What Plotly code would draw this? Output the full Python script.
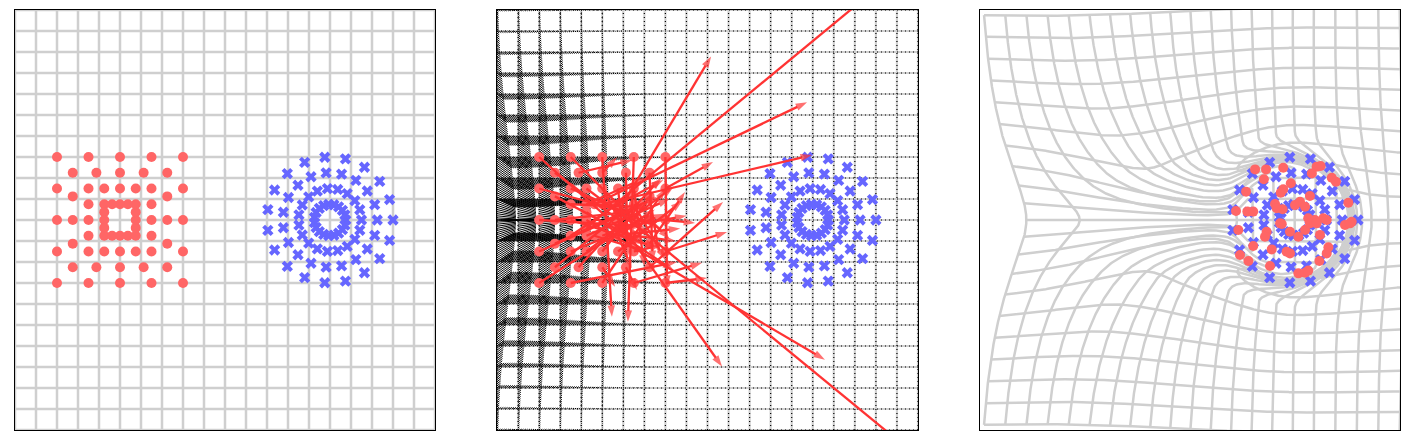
import numpy as np
import plotly.graph_objects as go

# ---------------- data ----------------
GRID_TICKS = list(range(-10, 11))

RED_CENTER = (-5.0, 0.0)
RED_RING_HALF = [3.0, 2.25, 1.5, 0.75]
UNIT_SQUARE = [(-1, -1), (-0.5, -1), (0, -1), (0.5, -1), (1, -1), (1, -0.5), (1, 0), (1, 0.5),
               (1, 1), (0.5, 1), (0, 1), (-0.5, 1), (-1, 1), (-1, 0.5), (-1, 0), (-1, -0.5)]

BLUE_CENTER = (5.0, 0.0)
BLUE_RADII = [3.0, 2.25, 1.5, 0.75]
BLUE_PER_RING = 19

# panel 2: arrow tips for each red point (same order as the red points)
ARROW_END_X = [-2.5, -1.45, -2.0, -0.26, -0.02, 0.93, -0.59, 0.26, -1.92, -3.78, -4.54, -3.0, -3.5, -3.2, -3.0, -2.8,
               -3.5, -2.2, -4.39, -3.35, 0.74, -1.07, -1.8, -2.3, -2.6, -3.8, -4.30, -3.59, -3.4, -2.9, -3.6, -2.4,
               -2.0, -1.6, -3.0, -1.2, -2.2, -1.5, -2.6, -2.0, -3.0, -4.0, -3.3, -2.7, -2.2, -2.8, -2.4, -3.3,
               -1.8, -2.9, -2.5, -1.3, -3.6, -1.0, 0.69, 0.17, -2.1, 9.38, 4.96, 4.73, -3.0, -1.6, 5.58, 8.19]
ARROW_END_Y = [0.5, -2.0, 1.5, -2.04, -2.76, -0.57, -0.14, 2.76, -3.18, -4.85, -4.61, -0.5, -1.0, 0.2, -0.3, 0.8,
               0.8, 2.0, -3.18, -3.33, 0.86, 1.33, -0.9, -1.6, -2.0, -1.8, 2.99, 2.85, -0.6, -1.2, 0.4, 1.1,
               0.3, 1.6, 1.0, 0.9, -1.2, -1.0, 1.3, -1.9, -2.2, -0.8, -1.6, -0.8, -0.4, 0.6, -1.3, 1.4,
               1.0, -1.5, 0.2, -0.4, -2.3, 0.2, -6.98, 7.79, 1.9, -10.78, 3.09, 5.61, 2.0, -2.4, -6.65, 11.16]

# panel 3: where the red points ended up
RED_OUT_X = [3.10, 3.62, 4.44, 3.52, 6.03, 6.22, 5.80, 6.75, 6.95, 4.80, 4.44, 4.32, 2.67, 5.71, 4.05, 4.13,
             4.41, 5.00, 5.24, 5.48, 7.54, 2.19, 2.73, 3.01, 5.63, 5.95, 6.35, 6.51, 4.29, 5.48, 5.71, 7.38,
             7.70, 2.30, 3.65, 4.76, 5.16, 6.19, 3.57, 3.01, 3.89, 4.60, 6.59, 6.51, 2.38, 2.78, 6.16, 3.81,
             5.16, 5.48, 5.63, 4.76, 4.37, 7.62, 6.03]
RED_OUT_Y = [2.41, 2.41, 2.49, 1.94, 2.54, 2.57, 2.22, 2.01, 1.82, 1.75, 1.46, 1.30, 1.35, 1.14, 0.76, 0.56,
             0.51, 0.71, 0.87, 0.63, 0.82, 0.43, 0.40, 0.40, 0.08, 0.00, 0.08, 0.00, -0.16, -0.48, -0.16, -0.24,
             -0.08, -0.48, -0.56, -0.56, -0.80, -0.71, -0.80, -1.24, -1.40, -1.51, -1.30, -1.59, -1.67, -1.95, -1.95, -2.19,
             -2.54, -2.51, -2.41, -1.59, -0.19, -0.16, -0.16]

# ---------------- styling ----------------
RED = '#ff6666'
ARROW_RED = '#ff3333'
BLUE = '#6666ff'
GRID_GRAY = '#cfcfcf'

# ---------------- derived geometry ----------------
red_x, red_y = [], []
for h in RED_RING_HALF:
    for ux, uy in UNIT_SQUARE:
        red_x.append(RED_CENTER[0] + h * ux)
        red_y.append(RED_CENTER[1] + h * uy)
red_x = np.array(red_x)
red_y = np.array(red_y)

ang = 2 * np.pi * np.arange(BLUE_PER_RING) / BLUE_PER_RING
blue_x = np.concatenate([BLUE_CENTER[0] + r * np.cos(ang) for r in BLUE_RADII])
blue_y = np.concatenate([BLUE_CENTER[1] + r * np.sin(ang) for r in BLUE_RADII])

lo, hi = GRID_TICKS[0], GRID_TICKS[-1]
samp = np.linspace(lo, hi, 801)
grid_lines = []
for c in GRID_TICKS:
    grid_lines.append((np.full_like(samp, c, dtype=float), samp.copy()))
    grid_lines.append((samp.copy(), np.full_like(samp, c, dtype=float)))


def join(lines):
    xs, ys = [], []
    for lx, ly in lines:
        xs.extend(list(lx)); xs.append(None)
        ys.extend(list(ly)); ys.append(None)
    return xs, ys


# panel 3 grid: the plane carried along by a soft disc moving from the red to the blue cluster
CYL_START, CYL_TRAVEL, CYL_R, CYL_SOFT, FRONT = -5.0, 10.0, 3.3, 0.9, 0.55
ALPHA, BETA, DRAG_L = 0.45, 0.55, 3.2


def smooth(s):
    s = np.clip(s, 0, 1)
    return s * s * (3 - 2 * s)


def vel(x, y, t):
    dx = x - (CYL_START + CYL_TRAVEL * t)
    dy = y
    r2 = dx * dx + dy * dy + 1e-9
    r = np.sqrt(r2)
    U, R2 = CYL_TRAVEL, CYL_R ** 2
    front = smooth((dx + 1.0) / 3.0)
    mdip = 1 - (1 - FRONT) * front
    wrear = 1 - front
    uo = mdip * ALPHA * U * R2 * (dx * dx - dy * dy) / r2 ** 2 \
        + wrear * BETA * U * np.exp(-np.clip(r - CYL_R, 0, None) / DRAG_L)
    vo = mdip * ALPHA * U * R2 * (2 * dx * dy) / r2 ** 2
    s = smooth((r - (CYL_R - CYL_SOFT)) / (2 * CYL_SOFT))
    return (1 - s) * U + s * uo, s * vo


def warp(x, y, steps=400):
    x = x.astype(float).copy(); y = y.astype(float).copy()
    dt = 1.0 / steps
    for i in range(steps):
        t = i * dt
        k1 = vel(x, y, t)
        k2 = vel(x + 0.5 * dt * k1[0], y + 0.5 * dt * k1[1], t + 0.5 * dt)
        k3 = vel(x + 0.5 * dt * k2[0], y + 0.5 * dt * k2[1], t + 0.5 * dt)
        k4 = vel(x + dt * k3[0], y + dt * k3[1], t + dt)
        x += dt / 6 * (k1[0] + 2 * k2[0] + 2 * k3[0] + k4[0])
        y += dt / 6 * (k1[1] + 2 * k2[1] + 2 * k3[1] + k4[1])
    return x, y


allx = np.concatenate([l[0] for l in grid_lines])
ally = np.concatenate([l[1] for l in grid_lines])
wxa, wya = warp(allx, ally)
warped = []
n = len(samp)
for i in range(len(grid_lines)):
    warped.append((wxa[i * n:(i + 1) * n], wya[i * n:(i + 1) * n]))

# quiver field of panel 2 (strong on the left)
qs = np.arange(lo, hi + 1e-9, 0.1)
qx, qy = [], []
for c in GRID_TICKS:
    for px_, py_ in [(np.full_like(qs, c), qs), (qs, np.full_like(qs, c))]:
        e = np.exp(-((px_ - lo) ** 2) / (2 * 3.4 ** 2)) * np.exp(-(py_ ** 2) / (2 * 4.3 ** 2))
        qu = 0.9 * e
        qv = -0.7 * e * np.tanh(py_ / 1.5)
        for a, b_, du, dv in zip(px_, py_, qu, qv):
            if abs(du) + abs(dv) > 0.03:
                qx += [a, a + du, None]
                qy += [b_, b_ + dv, None]

fig = go.Figure()

gx, gy = join(grid_lines)
wx, wy = join(warped)

# ---- panel 1 ----
fig.add_trace(go.Scatter(x=gx, y=gy, mode='lines', line=dict(color=GRID_GRAY, width=2.5),
                         hoverinfo='skip', xaxis='x', yaxis='y'))
fig.add_trace(go.Scatter(x=red_x, y=red_y, mode='markers',
                         marker=dict(color=RED, size=10, symbol='circle'), xaxis='x', yaxis='y'))
fig.add_trace(go.Scatter(x=blue_x, y=blue_y, mode='markers',
                         marker=dict(color=BLUE, size=10, symbol='x'), xaxis='x', yaxis='y'))

# ---- panel 2 ----
fig.add_trace(go.Scatter(x=gx, y=gy, mode='lines', line=dict(color=GRID_GRAY, width=2.2),
                         hoverinfo='skip', xaxis='x2', yaxis='y2'))
fig.add_trace(go.Scatter(x=gx, y=gy, mode='lines', line=dict(color='black', width=1.2, dash='1px,3px'),
                         hoverinfo='skip', xaxis='x2', yaxis='y2'))
fig.add_trace(go.Scatter(x=qx, y=qy, mode='lines', line=dict(color='black', width=1.0),
                         hoverinfo='skip', xaxis='x2', yaxis='y2'))
fig.add_trace(go.Scatter(x=blue_x, y=blue_y, mode='markers',
                         marker=dict(color=BLUE, size=10, symbol='x'), xaxis='x2', yaxis='y2'))
fig.add_trace(go.Scatter(x=red_x, y=red_y, mode='markers',
                         marker=dict(color=RED, size=10, symbol='circle'), xaxis='x2', yaxis='y2'))
ax, ay, asz = [], [], []
for x0, y0, x1, y1 in zip(red_x, red_y, ARROW_END_X, ARROW_END_Y):
    ax += [x0, x1, None]
    ay += [y0, y1, None]
    asz += [0, 12, 0]
fig.add_trace(go.Scatter(x=ax, y=ay, mode='lines+markers', line=dict(color=ARROW_RED, width=2.3),
                         marker=dict(symbol='arrow', angleref='previous', size=asz, color=ARROW_RED,
                                     line=dict(width=0)),
                         hoverinfo='skip', xaxis='x2', yaxis='y2'))

# ---- panel 3 ----
fig.add_trace(go.Scatter(x=wx, y=wy, mode='lines', line=dict(color=GRID_GRAY, width=2.5),
                         hoverinfo='skip', xaxis='x3', yaxis='y3'))
fig.add_trace(go.Scatter(x=blue_x, y=blue_y, mode='markers',
                         marker=dict(color=BLUE, size=10, symbol='x'), xaxis='x3', yaxis='y3'))
fig.add_trace(go.Scatter(x=RED_OUT_X, y=RED_OUT_Y, mode='markers',
                         marker=dict(color=RED, size=10, symbol='circle'), xaxis='x3', yaxis='y3'))

# page body has an 8px margin: size the figure so that the panels land where they are in the reference
OFF = 8
W, H = 1409 - 2 * OFF, 444 - 2 * OFF
ydom = [(H - (430 - OFF)) / H, (H - (10 - OFF)) / H]
axis_common = dict(range=[lo, hi], showgrid=False, zeroline=False, showticklabels=False, ticks='',
                   showline=True, mirror=True, linecolor='black', linewidth=1)
layout = dict(width=W, height=H, margin=dict(l=0, r=0, t=0, b=0), showlegend=False,
              paper_bgcolor='white', plot_bgcolor='white')
for i, (x0p, x1p) in enumerate([(15, 435), (497, 918), (980, 1400)]):
    sfx = '' if i == 0 else str(i + 1)
    layout['xaxis' + sfx] = dict(domain=[(x0p - OFF) / W, (x1p - OFF) / W], anchor='y' + sfx, **axis_common)
    layout['yaxis' + sfx] = dict(domain=ydom, anchor='x' + sfx, **axis_common)
fig.update_layout(**layout)

fig.write_html("out.html")
